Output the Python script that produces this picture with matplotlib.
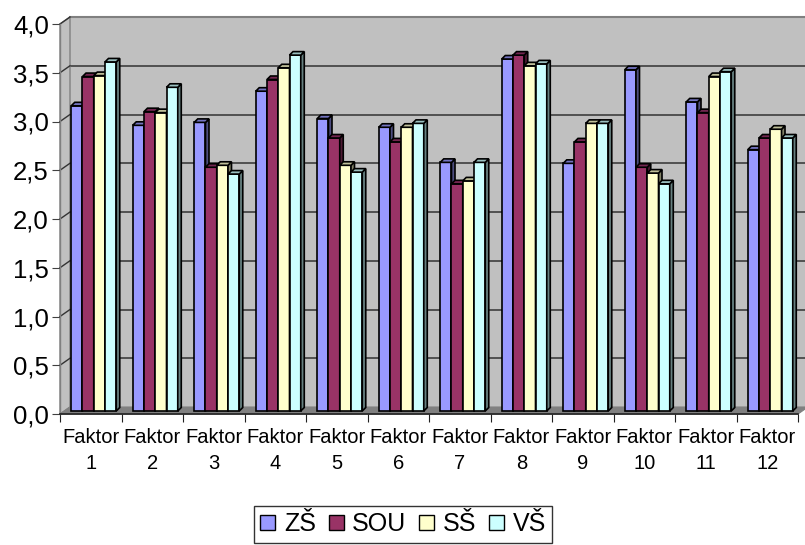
import matplotlib
matplotlib.use("Agg")
import matplotlib.pyplot as plt
import numpy as np
from matplotlib.patches import Polygon, Patch
from matplotlib.transforms import Affine2D

plt.rcParams["font.family"] = ["Liberation Sans", "DejaVu Sans"]

categories = ["Faktor\n%d" % i for i in range(1, 13)]
series = ["ZŠ", "SOU", "SŠ", "VŠ"]
zs  = [3.13, 2.93, 2.96, 3.28, 3.00, 2.91, 2.55, 3.61, 2.54, 3.50, 3.17, 2.68]
sou = [3.43, 3.07, 2.50, 3.40, 2.80, 2.76, 2.33, 3.65, 2.76, 2.50, 3.06, 2.80]
ss  = [3.44, 3.06, 2.52, 3.52, 2.52, 2.91, 2.36, 3.54, 2.95, 2.44, 3.43, 2.89]
vs  = [3.58, 3.32, 2.43, 3.65, 2.45, 2.95, 2.55, 3.56, 2.95, 2.33, 3.48, 2.80]
values = [zs, sou, ss, vs]
yticks = np.arange(0, 4.01, 0.5)

front = ["#9999FF", "#993366", "#FFFFCC", "#CCFFFF"]
tops  = ["#7373BF", "#732650", "#BFBF99", "#99BFBF"]
sides = ["#4D4D80", "#4D1A33", "#808066", "#668080"]

W, H = 805, 545
fig = plt.figure(figsize=(W / 100, H / 100), dpi=100)
fig.patch.set_facecolor("white")

# pixel geometry (image coords, y down)
L, R, TOP, BOT = 60, 798, 24, 414
DX, DY = 10, 7          # back wall offset
BX, BY = 3, 3           # bar offset from front plane
D = 3.5                 # bar depth


def fx(x):
    return x / W


def fy(y):
    return (H - y) / H


# back wall
axb = fig.add_axes([fx(L + DX), fy(BOT - DY), (R - L) / W, (BOT - TOP) / H], zorder=0)
axb.set_facecolor("#C0C0C0")
axb.set_xlim(0, 12)
axb.set_ylim(0, 4)
for y in yticks[1:-1]:
    axb.axhline(y, color="#333333", lw=1.1)
for s in axb.spines.values():
    s.set_visible(False)
axb.spines["top"].set_visible(True)
axb.spines["top"].set_color("#808080")
axb.spines["top"].set_linewidth(1.5)
axb.set_xticks([])
axb.set_yticks([])

# side wall and floor in figure coords
side = Polygon([(fx(L), fy(BOT)), (fx(L), fy(TOP)), (fx(L + DX), fy(TOP - DY)),
                (fx(L + DX), fy(BOT - DY))], closed=True, transform=fig.transFigure,
               facecolor="#C0C0C0", edgecolor="#808080", lw=1, zorder=1)
fig.patches.append(side)
floor = Polygon([(fx(L), fy(BOT)), (fx(R), fy(BOT)), (fx(R + DX), fy(BOT - DY)),
                 (fx(L + DX), fy(BOT - DY))], closed=True, transform=fig.transFigure,
                facecolor="#808080", edgecolor="#808080", lw=0.8, zorder=1)
fig.patches.append(floor)

# front plane axes
ax = fig.add_axes([fx(L), fy(BOT), (R - L) / W, (BOT - TOP) / H], zorder=2)
ax.set_facecolor("none")
ax.set_xlim(0, 12)
ax.set_ylim(0, 4)
for k in ["top", "right"]:
    ax.spines[k].set_visible(False)
ax.spines["left"].set_color("#808080")
ax.spines["bottom"].set_color("#202020")
ax.spines["left"].set_linewidth(1)
ax.spines["bottom"].set_linewidth(1.2)
ax.set_yticks(yticks)
ax.set_yticklabels([("%.1f" % v).replace(".", ",") for v in yticks], fontsize=18.5)
ax.tick_params(axis="y", length=6, color="#404040", pad=2)
ax.set_xticks(np.arange(0, 13))
ax.set_xticklabels([])
ax.set_xticks(np.arange(12) + 0.5, minor=True)
ax.set_xticklabels(categories, minor=True, fontsize=14.5, linespacing=1.45)
ax.tick_params(axis="x", which="major", length=6, color="#202020")
ax.tick_params(axis="x", which="minor", length=0, pad=10)

# side wall gridline stubs
for y in yticks[1:]:
    yi = BOT - y / 4 * (BOT - TOP)
    fig.add_artist(plt.Line2D([fx(L), fx(L + DX)], [fy(yi), fy(yi - DY)],
                              transform=fig.transFigure, color="#333333", lw=1, zorder=1.5))

# bars
bw = 0.183
shift = Affine2D().translate(BX, BY)
tr = ax.transData + shift
z = 3
for i in range(12):
    for j in range(4):
        x0 = i + 0.5 - 2 * bw + j * bw
        h = values[j][i]
        b = ax.bar(x0, h, width=bw, align="edge", color=front[j], edgecolor="black",
                   lw=1.2, transform=tr, zorder=z, clip_on=False)
        (px0, py0), (px1, py1) = tr.transform([(x0, 0), (x0 + bw, h)])
        topp = Polygon([(px0, py1), (px1, py1), (px1 + D, py1 + D), (px0 + D, py1 + D)],
                       closed=True, transform=None, facecolor=tops[j],
                       edgecolor="black", lw=1.2, zorder=z)
        sidep = Polygon([(px1, py0), (px1, py1), (px1 + D, py1 + D), (px1 + D, py0 + D)],
                        closed=True, transform=None, facecolor=sides[j],
                        edgecolor="black", lw=1.2, zorder=z)
        ax.add_artist(sidep)
        ax.add_artist(topp)
        z += 0.01

handles = [Patch(facecolor=front[j], edgecolor="black", lw=1) for j in range(4)]
leg = fig.legend(handles, series, loc="upper left", bbox_to_anchor=(fx(254), fy(506)),
                 ncol=4, fontsize=18, frameon=True, fancybox=False,
                 handlelength=0.6, handleheight=0.6, handletextpad=0.35,
                 columnspacing=0.5, borderpad=0.25, borderaxespad=0)
leg.get_frame().set_edgecolor("black")
leg.get_frame().set_linewidth(1)

fig.savefig("out.png", dpi=100, facecolor="white")
